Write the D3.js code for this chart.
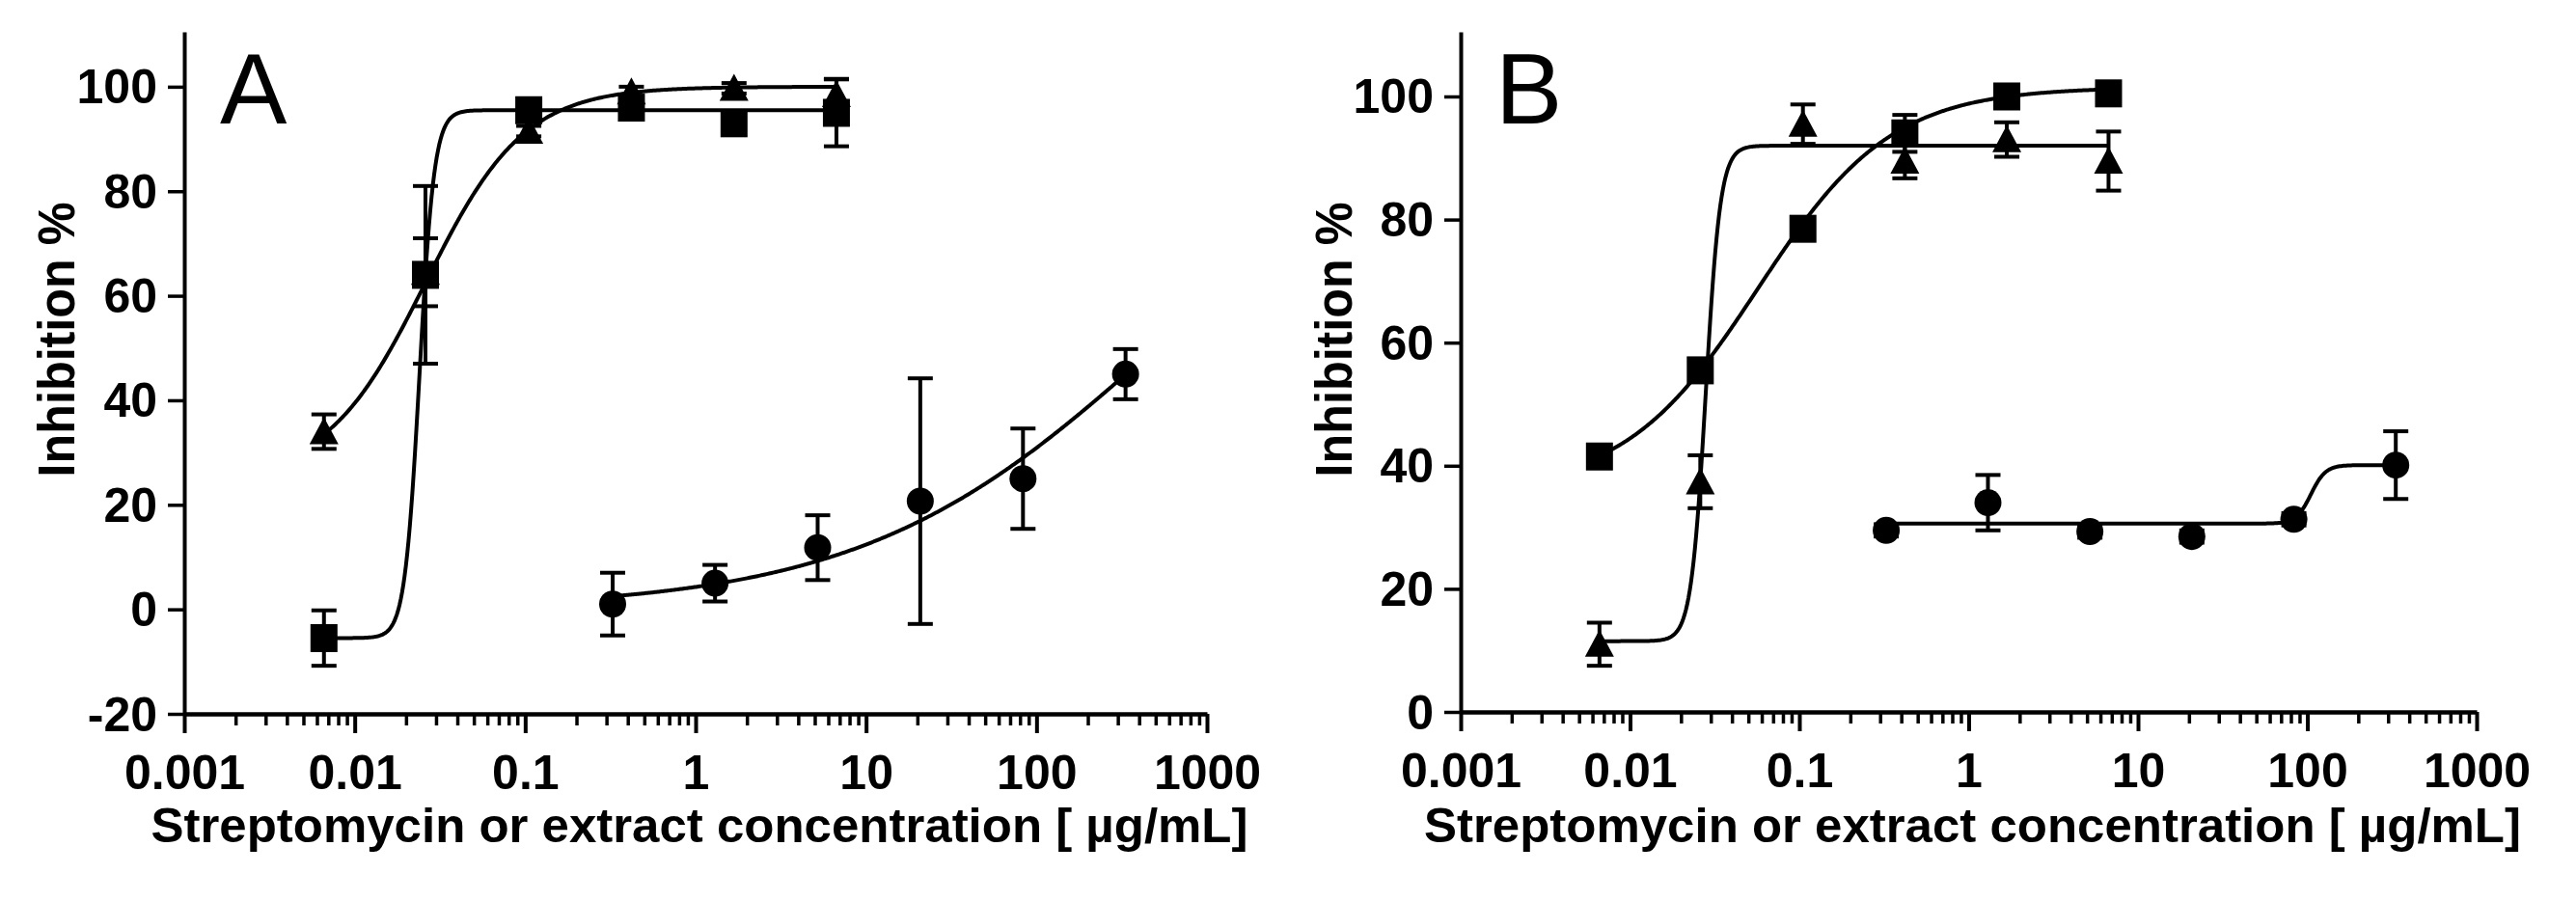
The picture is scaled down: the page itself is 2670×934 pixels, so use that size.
<!DOCTYPE html>
<html>
<head>
<meta charset="utf-8">
<script src="https://cdn.jsdelivr.net/npm/d3@7"></script>
<style>
  html, body { margin: 0; padding: 0; background: #fff; }
  svg { display: block; }
  text { font-family: "Liberation Sans", Arial, Helvetica, sans-serif; fill: #000; }
</style>
</head>
<body>
<svg id="chart" width="2670" height="934"></svg>
<script>
// ---------------- DATA ----------------
const concStrep   = [0.0066, 0.026, 0.105, 0.42, 1.68, 6.7];
const concExtract = [0.326, 1.3, 5.2, 20.8, 83.3, 333];

// Panel A
const aSquare      = [-5.5, 64, 95.5, 96, 93, 95];
const aSquareErr   = [5.3, 17, 1, 1, 1, 6.4];
const aTriangle    = [34, 64.5, 91.5, 99, 99.7, 98.5];
const aTriangleErr = [3.3, 6.5, 1, 1, 1, 3];
const aCircle      = [1, 5, 11.8, 20.7, 25, 45];
const aCircleErr   = [6, 3.5, 6.2, 23.5, 9.6, 4.8];

// Panel B
const bSquare      = [41.5, 55.5, 78.5, 94, 100, 100.5];
const bSquareErr   = [1, 1, 1, 3, 1, 1];
const bTriangle    = [11, 37.4, 95.5, 89.5, 93, 89.5];
const bTriangleErr = [3.5, 4.3, 3.2, 2.8, 2.8, 4.8];
const bCircle      = [29.5, 34, 29.3, 28.5, 31.3, 40.1];
const bCircleErr   = [1, 4.5, 1, 1, 1, 5.5];

// Fitted dose-response curves (4PL: bottom, top, EC50, hill)
const fitASquare   = [-5.5, 95.5, 0.024, 10];
const fitATriangle = [25, 100, 0.026, 1.5];
const fitACircle   = [0, 100, 500, 0.5];
const fitBSquare   = [36, 101.5, 0.0568, 1.1];
const fitBTriangle = [11.5, 92, 0.028, 10];
const fitBCircle   = [30.6, 40.1, 105, 10];

// Axes
const xTickValues = [0.001, 0.01, 0.1, 1, 10, 100, 1000];
const xTickLabels = ["0.001", "0.01", "0.1", "1", "10", "100", "1000"];
const yTicksA = [-20, 0, 20, 40, 60, 80, 100];
const yTickLabelsA = ["-20", "0", "20", "40", "60", "80", "100"];
const yTicksB = [0, 20, 40, 60, 80, 100];
const yTickLabelsB = ["0", "20", "40", "60", "80", "100"];
const panelLabels = ["A", "B"];
const xAxisTitle = "Streptomycin or extract concentration [ \u00B5g/mL]";
const yAxisTitle = "Inhibition %";

// ---------------- DRAW ----------------
const svg = d3.select("#chart");
const FONT = '"Liberation Sans", Arial, Helvetica, sans-serif';

function fourPL(p, c) {
  const [bottom, top, ec50, hill] = p;
  return bottom + (top - bottom) / (1 + Math.pow(ec50 / c, hill));
}

function drawPanel(cfg) {
  const g = svg.append("g");
  const x = d3.scaleLog().domain([0.001, 1000]).range([cfg.x0, cfg.x1]);
  const y = d3.scaleLinear().domain(cfg.yDomain).range([cfg.yBottom, cfg.yTop]);

  // minor ticks
  const minor = [];
  for (let e = -3; e < 3; e++) for (let m = 2; m <= 9; m++) minor.push(m * Math.pow(10, e));

  const xMinor = g.append("g").attr("transform", `translate(0,${cfg.yBottom})`)
    .call(d3.axisBottom(x).tickValues(minor).tickSize(12).tickSizeOuter(0).tickFormat(""));
  xMinor.select(".domain").remove();
  xMinor.selectAll(".tick line").attr("stroke", "#000").attr("stroke-width", 3.5);

  const xAxis = g.append("g").attr("transform", `translate(0,${cfg.yBottom})`)
    .call(d3.axisBottom(x).tickValues(xTickValues).tickSize(20).tickSizeOuter(0).tickPadding(22)
      .tickFormat((d, i) => xTickLabels[i]));
  xAxis.select(".domain").attr("stroke", "#000").attr("stroke-width", 4.5);
  xAxis.selectAll(".tick line").attr("stroke", "#000").attr("stroke-width", 4);
  xAxis.selectAll(".tick text").attr("font-family", FONT).attr("font-size", 50)
    .attr("font-weight", "bold").attr("fill", "#000");

  const yAxis = g.append("g").attr("transform", `translate(${cfg.x0},0)`)
    .call(d3.axisLeft(y).tickValues(cfg.yTicks).tickSize(17).tickSizeOuter(0).tickPadding(11)
      .tickFormat((d, i) => cfg.yTickLabels[i]));
  yAxis.select(".domain").attr("stroke", "#000").attr("stroke-width", 4);
  yAxis.selectAll(".tick line").attr("stroke", "#000").attr("stroke-width", 3.5);
  yAxis.selectAll(".tick text").attr("font-family", FONT).attr("font-size", 50)
    .attr("font-weight", "bold").attr("fill", "#000").attr("dy", "0.34em");

  // axis titles
  g.append("text")
    .attr("x", (cfg.x0 + cfg.x1) / 2 + 4).attr("y", 873)
    .attr("text-anchor", "middle")
    .attr("font-size", 50).attr("font-weight", "bold")
    .attr("textLength", 1137).attr("lengthAdjust", "spacingAndGlyphs")
    .text(xAxisTitle);

  g.append("text")
    .attr("transform", `translate(${cfg.yLabelX},352) rotate(-90)`)
    .attr("text-anchor", "middle")
    .attr("font-size", 53).attr("font-weight", "bold")
    .attr("textLength", 285).attr("lengthAdjust", "spacingAndGlyphs")
    .text(yAxisTitle);

  // panel letter
  g.append("text")
    .attr("x", cfg.labelX).attr("y", 128)
    .attr("font-size", 104).attr("font-weight", "normal")
    .text(cfg.label);

  // curves
  const line = d3.line().x(d => x(d[0])).y(d => y(d[1]));
  cfg.series.forEach(s => {
    const lo = Math.log10(s.conc[0]), hi = Math.log10(s.conc[s.conc.length - 1]);
    const pts = d3.range(0, 401).map(i => {
      const c = Math.pow(10, lo + (hi - lo) * i / 400);
      return [c, fourPL(s.fit, c)];
    });
    g.append("path").datum(pts).attr("d", line)
      .attr("fill", "none").attr("stroke", "#000").attr("stroke-width", 4);
  });

  // error bars
  const cap = 13;
  cfg.series.forEach(s => {
    s.vals.forEach((v, i) => {
      const cx = x(s.conc[i]);
      const yt = y(v + s.err[i]), yb = y(v - s.err[i]);
      const eb = g.append("g").attr("stroke", "#000").attr("stroke-width", 4);
      eb.append("line").attr("x1", cx).attr("x2", cx).attr("y1", yt).attr("y2", yb);
      eb.append("line").attr("x1", cx - cap).attr("x2", cx + cap).attr("y1", yt).attr("y2", yt);
      eb.append("line").attr("x1", cx - cap).attr("x2", cx + cap).attr("y1", yb).attr("y2", yb);
    });
  });

  // markers
  cfg.series.forEach(s => {
    s.vals.forEach((v, i) => {
      const cx = x(s.conc[i]), cy = y(v);
      if (s.shape === "square") {
        g.append("rect").attr("x", cx - 14).attr("y", cy - 14.5).attr("width", 28).attr("height", 29).attr("fill", "#000");
      } else if (s.shape === "triangle") {
        g.append("path").attr("d", `M${cx},${cy - 15} L${cx + 15},${cy + 13} L${cx - 15},${cy + 13} Z`).attr("fill", "#000");
      } else {
        g.append("circle").attr("cx", cx).attr("cy", cy).attr("r", 14).attr("fill", "#000");
      }
    });
  });
}

drawPanel({
  x0: 191, x1: 1251, yTop: 33, yBottom: 740, yDomain: [-20, 110.5],
  yTicks: yTicksA, yTickLabels: yTickLabelsA,
  yLabelX: 77, labelX: 228, label: panelLabels[0],
  series: [
    { shape: "square",   conc: concStrep,   vals: aSquare,   err: aSquareErr,   fit: fitASquare },
    { shape: "triangle", conc: concStrep,   vals: aTriangle, err: aTriangleErr, fit: fitATriangle },
    { shape: "circle",   conc: concExtract, vals: aCircle,   err: aCircleErr,   fit: fitACircle }
  ]
});

drawPanel({
  x0: 1514, x1: 2567, yTop: 33, yBottom: 738, yDomain: [0, 110.5],
  yTicks: yTicksB, yTickLabels: yTickLabelsB,
  yLabelX: 1401, labelX: 1550, label: panelLabels[1],
  series: [
    { shape: "square",   conc: concStrep,   vals: bSquare,   err: bSquareErr,   fit: fitBSquare },
    { shape: "triangle", conc: concStrep,   vals: bTriangle, err: bTriangleErr, fit: fitBTriangle },
    { shape: "circle",   conc: concExtract, vals: bCircle,   err: bCircleErr,   fit: fitBCircle }
  ]
});
</script>
</body>
</html>
